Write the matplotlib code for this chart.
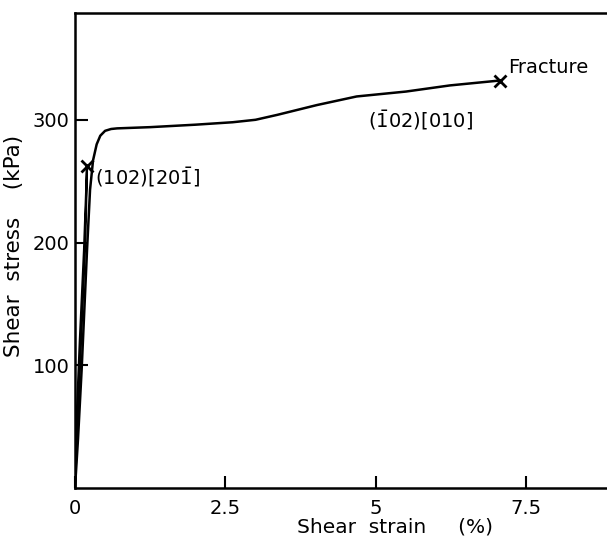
import matplotlib.pyplot as plt
import numpy as np

# first loading / unloading cycle
strain1 = [0, 0.03, 0.08, 0.15, 0.20, 0.17, 0.10, 0.04, 0.0]
stress1 = [0, 60, 120, 194, 262, 200, 120, 50, 0]

# second loading up to fracture
strain2 = [0, 0.05, 0.11, 0.20, 0.25, 0.30, 0.36, 0.42, 0.50, 0.60, 0.70,
           1.25, 2.0, 2.62, 3.0, 3.36, 4.02, 4.68, 5.5, 6.23, 7.06]
stress2 = [0, 40, 96, 194, 243, 267, 280, 287, 291, 292.5, 293,
           294, 296, 298, 300, 304, 312, 319, 323, 328, 332]

xticks = [0, 2.5, 5, 7.5]
xticklabels = ["0", "2.5", "5", "7.5"]
yticks = [100, 200, 300]

fig = plt.figure(figsize=(6.07, 5.38), dpi=100)
ax = fig.add_axes([75 / 607, 50 / 538, 1 - 75 / 607, 475 / 538])

ax.plot(strain1, stress1, color="black", lw=1.6)
ax.plot(strain2, stress2, color="black", lw=1.8)
ax.plot([strain1[4], strain2[-1]], [stress1[4], stress2[-1]], "x",
        color="black", ms=8, mew=2)

ax.text(0.33, 253, r"(102)[20$\bar{1}$]", fontsize=14, va="center")
ax.text(7.2, 343, "Fracture", fontsize=14, va="center")
ax.text(4.87, 300, r"($\bar{1}$02)[010]", fontsize=14, va="center")

ax.set_xlim(0, 8.84)
ax.set_ylim(0, 387)
ax.set_xticks(xticks)
ax.set_xticklabels(xticklabels)
ax.set_yticks(yticks)
ax.tick_params(direction="in", length=9, width=1.5, labelsize=14)
ax.tick_params(axis="x", pad=8)
ax.tick_params(axis="y", pad=4)
ax.spines["right"].set_visible(False)
for s in ["left", "bottom", "top"]:
    ax.spines[s].set_linewidth(1.8)

ax.set_ylabel("Shear  stress    (kPa)", fontsize=15.5)
ax.yaxis.set_label_coords(-0.095, 0.51)
fig.text(395 / 607, 1 - 527 / 538, "Shear  strain     (%)", fontsize=14.5,
         ha="center", va="center")

fig.savefig("out.png", dpi=100)
